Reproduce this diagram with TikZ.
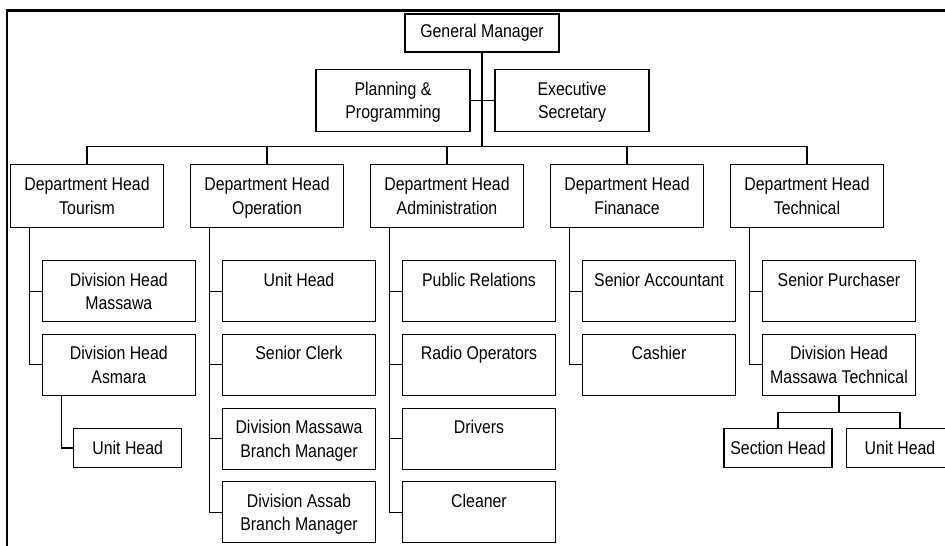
\documentclass[tikz,border=0pt]{standalone}
\usepackage{fontspec}
\setmainfont{Liberation Sans}[FakeStretch=0.86]
\usepackage{tikz}
\usetikzlibrary{positioning}
\tikzset{
  post/.style={draw, line width=0.6pt, align=center, inner sep=2pt,
               font=\fontsize{10.5}{13.5}\selectfont},
  twoline/.style={post, text height=23.4pt, text depth=2.2pt},
  dept/.style={twoline, minimum width=3.07cm, minimum height=1.26cm},
  sub/.style={twoline, minimum width=3.06cm, minimum height=1.22cm},
  small/.style={post, minimum width=2.16cm, minimum height=0.77cm},
  link/.style={line width=0.6pt},
}

\begin{document}
\begin{tikzpicture}[x=0.02cm, y=-0.02cm,
  frame/.style={line width=1.4pt},
  top/.style={post, minimum width=3.08cm},
]

  \clip (0,0) rectangle (945,545);
  % outer frame (cut off at right and bottom)
  \draw[frame] (7,10.5) rectangle (960,560);

  % General manager and staff
  \node[top, minimum height=0.76cm] (gm)   at (482,33)    {General Manager};
  \node[top, twoline, minimum height=1.25cm] (plan) at (393,100.3) {Planning \&\\Programming};
  \node[top, twoline, minimum height=1.25cm] (exec) at (572,100.3) {Executive\\Secretary};

  % Departments
  \node[dept] (tour)  at (87,195.8)  {Department Head\\Tourism};
  \node[dept] (oper)  at (267,195.8) {Department Head\\Operation};
  \node[dept] (admin) at (447,195.8) {Department Head\\Administration};
  \node[dept] (fin)   at (627,195.8) {Department Head\\Finanace};
  \node[dept] (tech)  at (807,195.8) {Department Head\\Technical};

  \coordinate (bus) at (482,146.7);
  \draw[link] (gm) -- (bus);
  \draw[link] (plan.east) -- (exec.west);
  \draw[link] (bus) -| (tour.north);
  \draw[link] (bus) -| (oper.north);
  \draw[link] (bus) -| (admin.north);
  \draw[link] (bus) -| (fin.north);
  \draw[link] (bus) -| (tech.north);

  % Tourism
  \node[sub]   (massawa) at (118.8,291.2) {Division Head\\Massawa};
  \node[sub]   (asmara)  at (118.8,364.8) {Division Head\\Asmara};
  \node[small] (tunit)   at (127.7,448)   {Unit Head};
  \coordinate (tourL) at ([xshift=0.39cm]tour.south west);
  \draw[link] (tourL) |- (massawa.west);
  \draw[link] (tourL) |- (asmara.west);
  \draw[link] ([xshift=0.39cm]asmara.south west) |- (tunit.west);

  % Operation
  \node[sub] (ounit)  at (299,291.2) {Unit Head\\~};
  \node[sub] (oclerk) at (299,364.8) {Senior Clerk\\~};
  \node[sub] (omass)  at (299,438.7) {Division Massawa\\Branch Manager};
  \node[sub] (oassab) at (299,512.3) {Division Assab\\Branch Manager};
  \coordinate (operL) at ([xshift=0.39cm]oper.south west);
  \draw[link] (operL) |- (ounit.west);
  \draw[link] (operL) |- (oclerk.west);
  \draw[link] (operL) |- (omass.west);
  \draw[link] (operL) |- (oassab.west);

  % Administration
  \node[sub] (apub)   at (479,291.2) {Public Relations\\~};
  \node[sub] (aradio) at (479,364.8) {Radio Operators\\~};
  \node[sub] (adrive) at (479,438.7) {Drivers\\~};
  \node[sub] (aclean) at (479,512.3) {Cleaner\\~};
  \coordinate (adminL) at ([xshift=0.39cm]admin.south west);
  \draw[link] (adminL) |- (apub.west);
  \draw[link] (adminL) |- (aradio.west);
  \draw[link] (adminL) |- (adrive.west);
  \draw[link] (adminL) |- (aclean.west);

  % Finance
  \node[sub] (facc)  at (659,291.2) {Senior Accountant\\~};
  \node[sub] (fcash) at (659,364.8) {Cashier\\~};
  \coordinate (finL) at ([xshift=0.39cm]fin.south west);
  \draw[link] (finL) |- (facc.west);
  \draw[link] (finL) |- (fcash.west);

  % Technical
  \node[sub] (tpurch) at (839,291.2) {Senior Purchaser\\~};
  \node[sub] (tmass)  at (839,364.8) {Division Head\\Massawa Technical};
  \node[small] (tsect) at (778,448) {Section Head};
  \node[small] (tunit2) at (900,448) {Unit Head};
  \coordinate (techL) at ([xshift=0.39cm]tech.south west);
  \draw[link] (techL) |- (tpurch.west);
  \draw[link] (techL) |- (tmass.west);
  \coordinate (mbus) at (839,412.7);
  \draw[link] (tmass) -- (mbus);
  \draw[link] (mbus) -| (tsect.north);
  \draw[link] (mbus) -| (tunit2.north);

\end{tikzpicture}
\end{document}
